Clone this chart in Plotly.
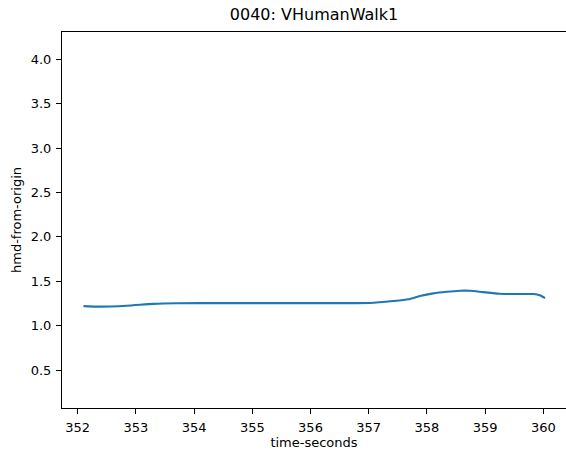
import plotly.graph_objects as go

# HMD distance from origin over the session clip
time_seconds = [352.10, 352.38, 352.84, 353.30, 353.70, 354.50, 355.50, 356.50,
                357.02, 357.42, 357.68, 357.88, 358.11, 358.34, 358.57, 358.74,
                358.97, 359.25, 359.54, 359.83, 359.94, 360.03]
hmd_from_origin = [1.220, 1.214, 1.224, 1.246, 1.253, 1.254, 1.254, 1.254,
                   1.255, 1.277, 1.297, 1.334, 1.364, 1.382, 1.394, 1.394,
                   1.378, 1.360, 1.356, 1.356, 1.342, 1.310]

x_ticks = [352, 353, 354, 355, 356, 357, 358, 359, 360]
y_ticks = [0.5, 1.0, 1.5, 2.0, 2.5, 3.0, 3.5, 4.0]

font_family = "DejaVu Sans"

fig = go.Figure()
fig.add_trace(go.Scatter(
    x=time_seconds,
    y=hmd_from_origin,
    mode="lines",
    line=dict(color="#1f77b4", width=2.1, shape="spline", smoothing=0.6),
    showlegend=False,
    hoverinfo="x+y",
))

axis_common = dict(
    showgrid=False,
    zeroline=False,
    showline=True,
    linecolor="black",
    linewidth=1,
    ticks="outside",
    ticklen=5,
    tickwidth=1,
    tickcolor="black",
    tickfont=dict(family=font_family, size=13, color="black"),
)

fig.update_layout(
    width=566,
    height=459,
    margin=dict(l=62, r=0, t=32, b=51),
    paper_bgcolor="white",
    plot_bgcolor="white",
    title=dict(
        text="0040: VHumanWalk1",
        font=dict(family=font_family, size=16, color="black"),
        x=0.5,
        xref="paper",
        xanchor="center",
        y=1 - 14 / 459,
        yanchor="middle",
    ),
    xaxis=dict(
        range=[351.73, 360.39],
        tickvals=x_ticks,
        ticktext=[str(v) for v in x_ticks],
        mirror=True,
        ticklabelstandoff=2,
        title=dict(text="time-seconds", font=dict(family=font_family, size=13, color="black"),
                   standoff=4),
        **axis_common,
    ),
    yaxis=dict(
        range=[0.073, 4.307],
        tickvals=y_ticks,
        ticktext=[f"{v:.1f}" for v in y_ticks],
        mirror=False,
        ticklabelstandoff=2,
        title=dict(text="hmd-from-origin", font=dict(family=font_family, size=13, color="black"),
                   standoff=6),
        **axis_common,
    ),
)

fig.write_html("out.html")
